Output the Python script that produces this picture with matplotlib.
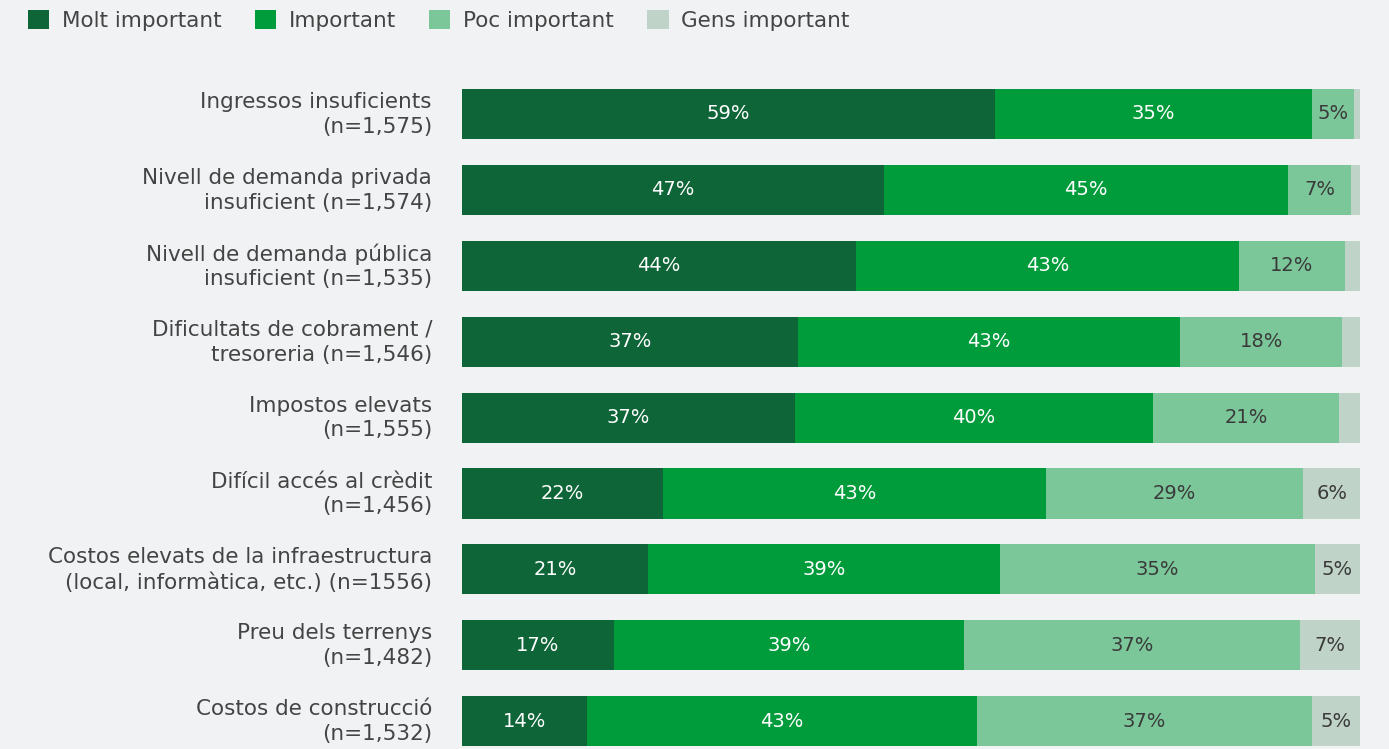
import matplotlib
matplotlib.use("Agg")
import matplotlib.pyplot as plt
from matplotlib.patches import Patch
import matplotlib.transforms as mtransforms
import numpy as np

plt.rcParams['font.family'] = ['DejaVu Sans']

categories = [
    "Ingressos insuficients\n(n=1,575)",
    "Nivell de demanda privada\ninsuficient (n=1,574)",
    "Nivell de demanda pública\ninsuficient (n=1,535)",
    "Dificultats de cobrament /\ntresoreria (n=1,546)",
    "Impostos elevats\n(n=1,555)",
    "Difícil accés al crèdit\n(n=1,456)",
    "Costos elevats de la infraestructura\n(local, informàtica, etc.) (n=1556)",
    "Preu dels terrenys\n(n=1,482)",
    "Costos de construcció\n(n=1,532)",
]
series_names = ["Molt important", "Important", "Poc important", "Gens important"]
molt_important = [59.4, 47.0, 43.9, 37.4, 37.1, 22.4, 20.7, 16.9, 13.9]
important      = [35.2, 45.0, 42.6, 42.6, 39.8, 42.6, 39.2, 39.0, 43.4]
poc_important  = [4.7, 7.0, 11.8, 18.0, 20.8, 28.7, 35.1, 37.4, 37.3]
gens_important = [0.7, 1.0, 1.7, 2.0, 2.3, 6.3, 5.0, 6.7, 5.4]

colors = ["#0e6537", "#009c3b", "#7bc79a", "#c0d3c8"]
text_colors = ["white", "white", "#3a3a3a", "#3a3a3a"]
bg = "#f1f2f4"

fig = plt.figure(figsize=(13.89, 7.49), dpi=100, facecolor=bg)
ax = fig.add_axes([462/1389, 0.0, (1360-462)/1389, 1-76/749])
ax.set_facecolor(bg)

y = np.arange(len(categories))
left = np.zeros(len(categories))
for name, vals, c, tc in zip(series_names,
                             [molt_important, important, poc_important, gens_important],
                             colors, text_colors):
    vals = np.array(vals)
    ax.barh(y, vals, left=left, height=0.66, color=c, label=name, linewidth=0)
    for yi, l, v in zip(y, left, vals):
        if v >= 3:
            ax.text(l + v/2, yi, f"{round(v)}%", ha='center', va='center',
                    color=tc, fontsize=14)
    left += vals

ax.set_xlim(0, 100)
ax.set_ylim((749-114)/75.9, -0.5)
ax.set_yticks([])
ax.set_xticks([])
for s in ax.spines.values():
    s.set_visible(False)

label_tr = ax.get_yaxis_transform() + mtransforms.ScaledTranslation(-30/100, -0.5/100, fig.dpi_scale_trans)
for yi, cat in zip(y, categories):
    ax.text(0, yi, cat, transform=label_tr, ha='right', va='center', multialignment='right',
            fontsize=15.5, color="#444444", linespacing=1.3, clip_on=False)

handles = [Patch(facecolor=c, edgecolor='none') for c in colors]
fig.legend(handles, series_names, loc='upper left', bbox_to_anchor=(0.006, 1.013),
           ncol=4, frameon=False, fontsize=15.5, handlelength=0.98, handleheight=0.98,
           handletextpad=0.6, columnspacing=1.55, labelcolor="#444444")

fig.savefig("out.png", dpi=100, facecolor=bg)
